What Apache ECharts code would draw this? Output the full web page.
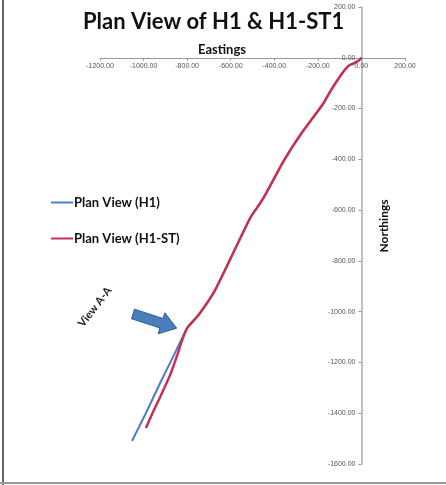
<!DOCTYPE html>
<html>
<head>
<meta charset="utf-8">
<script src="https://cdn.jsdelivr.net/npm/echarts@6/dist/echarts.min.js"></script>
<style>html,body{margin:0;padding:0;background:#fff;}#c{width:446px;height:485px;}</style>
</head>
<body>
<div id="c"></div>
<script>
// Plan view data (Eastings, Northings)
var h1East  = [0, -14, -41, -60, -83, -124, -147, -179, -280, -354, -455, -510, -671, -745, -800, -860, -924, -989, -1053];
var h1North = [0, -12, -24, -32, -55, -106, -138, -185, -303, -402, -560, -630, -914, -1010, -1065, -1170, -1281, -1399, -1509];
var stEast  = [0, -14, -41, -60, -83, -124, -147, -179, -280, -354, -455, -510, -671, -745, -800, -822, -845, -878, -924, -961, -989];
var stNorth = [0, -12, -24, -32, -55, -106, -138, -185, -303, -402, -560, -630, -914, -1010, -1065, -1110, -1170, -1249, -1336, -1403, -1458];
var seriesNames = ['Plan View (H1)', 'Plan View (H1-ST)'];
var xTicks = {min: -1200, max: 200, step: 200};
var yTicks = {min: -1600, max: 200, step: 200};

function pairs(a, b) { return a.map(function (v, i) { return [v, b[i]]; }); }

var W = 446, H = 485;
var G = {left: 100, right: 41, top: 7, bottom: 21};
var gw = W - G.left - G.right, gh = H - G.top - G.bottom;
// place the axes where the other axis crosses zero
var xOff = -gh * (yTicks.max / (yTicks.max - yTicks.min));
var yOff = -gw * (xTicks.max / (xTicks.max - xTicks.min));

var chart = echarts.init(document.getElementById('c'), null, {renderer: 'canvas'});
var lblStyle = {fontSize: 7, color: '#555', fontFamily: 'Liberation Sans'};
chart.setOption({
  animation: false,
  backgroundColor: '#fff',
  grid: {left: G.left, right: G.right, top: G.top, bottom: G.bottom, outerBoundsMode: 'none'},
  title: {
    text: 'Plan View of H1 & H1-ST1', left: 78, top: 6,
    textStyle: {fontSize: 22, fontWeight: 'bold', fontFamily: 'Lato', color: '#111'}
  },
  legend: {
    orient: 'vertical', left: 46, top: 191, itemGap: 23, itemWidth: 22, itemHeight: 2,
    icon: 'rect',
    data: seriesNames,
    textStyle: {fontSize: 13, fontWeight: 'bold', fontFamily: 'Lato', color: '#111', padding: [0, 0, 0, -4]}
  },
  xAxis: {
    type: 'value', min: xTicks.min, max: xTicks.max, interval: xTicks.step,
    position: 'top', offset: xOff,
    axisLine: {onZero: false, lineStyle: {color: '#999', width: 1}},
    axisTick: {show: true, inside: true, length: 3, lineStyle: {color: '#999'}},
    splitLine: {show: false},
    axisLabel: Object.assign({inside: true, formatter: function (v) { return v.toFixed(2); }, margin: 5}, lblStyle)
  },
  yAxis: {
    type: 'value', min: yTicks.min, max: yTicks.max, interval: yTicks.step,
    position: 'right', offset: yOff,
    axisLine: {onZero: false, lineStyle: {color: '#aaa', width: 1.5}},
    axisTick: {show: true, inside: true, length: 3, lineStyle: {color: '#999'}},
    splitLine: {show: false},
    axisLabel: Object.assign({inside: true, formatter: function (v) { return v.toFixed(2); }, margin: 6}, lblStyle)
  },
  series: [
    {name: seriesNames[0], type: 'line', data: pairs(h1East, h1North), showSymbol: false, smooth: 0.2,
     lineStyle: {color: '#4a7cc8', width: 2}, itemStyle: {color: '#4a7cc8'}},
    {name: seriesNames[1], type: 'line', data: pairs(stEast, stNorth), showSymbol: false, smooth: 0.2,
     lineStyle: {color: '#c8304e', width: 2.5}, itemStyle: {color: '#c8304e'}}
  ],
  graphic: [
    {type: 'line', shape: {x1: 3, y1: 0, x2: 3, y2: 485}, style: {stroke: '#666', lineWidth: 2}},
    {type: 'line', shape: {x1: 0, y1: 483, x2: 446, y2: 483}, style: {stroke: '#999', lineWidth: 2}},
    {type: 'text', x: 222, y: 50, style: {text: 'Eastings', fontSize: 13, fontWeight: 'bold', fontFamily: 'Lato', fill: '#111', align: 'center', verticalAlign: 'middle'}},
    {type: 'text', x: 384, y: 226, rotation: Math.PI / 2, style: {text: 'Northings', fontSize: 12, fontWeight: 'bold', fontFamily: 'Lato', fill: '#111', align: 'center', verticalAlign: 'middle'}},
    {type: 'text', x: 95, y: 307, rotation: Math.PI * 0.29, style: {text: 'View A-A', fontSize: 11, fontFamily: 'Lato', fontWeight: 'bold', fill: '#222', align: 'center', verticalAlign: 'middle'}},
    {type: 'polygon', shape: {points: [[134.5, 309.2], [163, 318.5], [164.9, 312.8], [176.7, 328.2], [158.1, 333.8], [160, 328], [131.5, 318.75]]},
     style: {fill: '#4a7ebb', stroke: '#2f5f94', lineWidth: 1}}
  ]
});
</script>
</body>
</html>
